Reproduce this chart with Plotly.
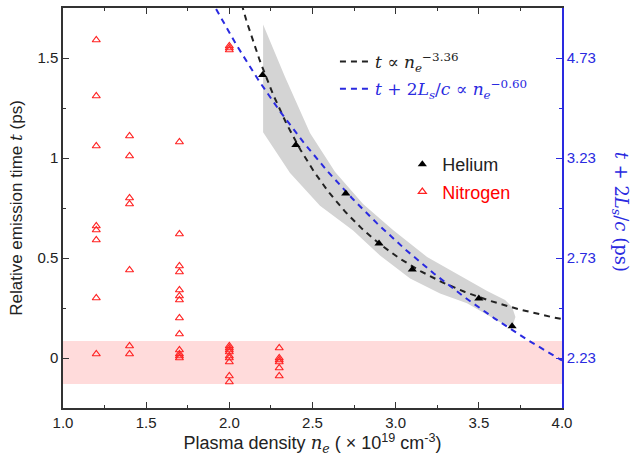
import numpy as np
import plotly.graph_objects as go

# ---------------- data ----------------
helium_n = [2.2, 2.4, 2.7, 2.9, 3.1, 3.5, 3.7]
helium_t = [1.415, 1.065, 0.822, 0.572, 0.442, 0.297, 0.159]

nitrogen_n = ([1.2] * 8 + [1.4] * 7 + [1.7] * 13 + [2.0] * 12 + [2.3] * 6)
nitrogen_t = ([1.59, 1.31, 1.06, 0.66, 0.64, 0.59, 0.30, 0.02] +
              [1.11, 1.01, 0.80, 0.77, 0.44, 0.06, 0.02] +
              [1.08, 0.62, 0.46, 0.43, 0.34, 0.31, 0.29, 0.20, 0.12, 0.04, 0.02, 0.01, 0.0] +
              [1.56, 1.55, 1.54, 0.06, 0.05, 0.04, 0.03, 0.01, 0.0, -0.02, -0.09, -0.12] +
              [0.05, 0.0, -0.01, -0.02, -0.05, -0.09])

# uncertainty band around helium data
band_upper_n = [2.203, 2.335, 2.485, 2.636, 2.804, 2.984, 3.189, 3.387, 3.550, 3.658, 3.700, 3.720]
band_upper_t = [1.667, 1.405, 1.125, 0.930, 0.770, 0.640, 0.505, 0.410, 0.335, 0.290, 0.255, 0.205]
band_lower_n = [2.203, 2.365, 2.545, 2.744, 2.906, 3.087, 3.267, 3.429, 3.628, 3.700]
band_lower_t = [1.129, 0.925, 0.761, 0.637, 0.512, 0.398, 0.323, 0.274, 0.179, 0.154]

# nitrogen "zero" band
nitrogen_band = (-0.13, 0.085)

# power-law fits
black_exp, black_amp = -3.36, 20.5
blue_exp, blue_amp, blue_offset = -0.60, 7.3, 3.19

x_ticks = [1.0, 1.5, 2.0, 2.5, 3.0, 3.5, 4.0]
x_ticklabels = ["1.0", "1.5", "2.0", "2.5", "3.0", "3.5", "4.0"]
y_ticks = [0, 0.5, 1, 1.5]
y_ticklabels = ["0", "0.5", "1", "1.5"]
y2_ticklabels = ["2.23", "2.73", "3.23", "4.73"]

BLUE = "#2a2ae0"
RED = "#ff2222"
SERIF = "DejaVu Serif, serif"

fig = go.Figure()

# gray band
fig.add_trace(go.Scatter(
    x=band_upper_n + band_lower_n[::-1], y=band_upper_t + band_lower_t[::-1],
    fill="toself", fillcolor="#d4d4d4", line=dict(width=0, color="#d4d4d4"),
    mode="lines", showlegend=False, hoverinfo="skip"))

n_fit = np.linspace(1.8, 4.0, 250)
fig.add_trace(go.Scatter(
    x=n_fit, y=black_amp * n_fit ** black_exp, mode="lines",
    line=dict(color="#222222", width=2, dash="6px,5px"),
    name="<i>t</i> ∝ <i>n<sub>e</sub></i><sup>−3.36</sup>",
    legend="legend", legendgroup="a"))
fig.add_trace(go.Scatter(
    x=n_fit, y=blue_amp * n_fit ** blue_exp - blue_offset, mode="lines",
    line=dict(color=BLUE, width=2, dash="6px,5px"),
    name="<span style='color:%s'><i>t</i> + 2<i>L<sub>s</sub></i>/<i>c</i> ∝ <i>n<sub>e</sub></i><sup>−0.60</sup></span>" % BLUE,
    legend="legend", legendgroup="b"))

fig.add_trace(go.Scatter(
    x=nitrogen_n, y=nitrogen_t, mode="markers",
    marker=dict(symbol="triangle-up-open", size=7, color=RED, line=dict(width=1.2, color=RED)),
    name="<span style='color:red'>Nitrogen</span>", legend="legend2", legendgroup="d", legendrank=2))
fig.add_trace(go.Scatter(
    x=helium_n, y=helium_t, mode="markers",
    marker=dict(symbol="triangle-up", size=8, color="black"),
    name="Helium", legend="legend2", legendgroup="c", legendrank=1))

fig.add_shape(type="rect", xref="paper", x0=0, x1=1, yref="y",
              y0=nitrogen_band[0], y1=nitrogen_band[1],
              fillcolor="rgba(255,40,40,0.17)", line=dict(width=0), layer="below")

axis_font = dict(family="Liberation Sans, Arial", size=15, color="#222")

fig.update_layout(
    width=635, height=459,
    margin=dict(l=63, r=73, t=6, b=51),
    paper_bgcolor="white", plot_bgcolor="white",
    font=dict(family="Liberation Sans, Arial", size=15, color="#222"),
    xaxis=dict(range=[1.0, 4.0], tickvals=x_ticks, ticktext=x_ticklabels,
               ticks="inside", ticklen=6, tickcolor="#333", showline=True,
               linecolor="#333", linewidth=1.5, mirror="ticks", showgrid=False,
               zeroline=False, tickfont=axis_font,
               minor=dict(dtick=0.25, ticks="inside", ticklen=3, tickcolor="#333"),
               title=dict(text="Plasma density <span style='font-family:DejaVu Serif'><i>n<sub>e</sub></i></span> ( × 10<sup>19</sup> cm<sup>-3</sup>)",
                          font=dict(size=18), standoff=6)),
    yaxis=dict(range=[-0.25, 1.75], tickvals=y_ticks, ticktext=y_ticklabels,
               ticks="inside", ticklen=6, tickcolor="#333", showline=True,
               linecolor="#333", linewidth=1.5, showgrid=False, zeroline=False,
               tickfont=axis_font,
               minor=dict(dtick=0.25, ticks="inside", ticklen=3, tickcolor="#333"),
               title=dict(text="Relative emission time <span style='font-family:DejaVu Serif'><i>t</i></span> (ps)",
                          font=dict(size=17), standoff=10)),
    yaxis2=dict(range=[-0.25, 1.75], overlaying="y", side="right",
                tickvals=y_ticks, ticktext=y2_ticklabels, ticks="inside", ticklen=6,
                tickcolor=BLUE, showline=True, linecolor=BLUE, linewidth=1.5,
                showgrid=False, zeroline=False, tickfont=dict(family="Liberation Sans, Arial", size=15, color=BLUE),
                minor=dict(dtick=0.25, ticks="inside", ticklen=3, tickcolor=BLUE)),
    legend=dict(x=0.545, y=0.91, xanchor="left", yanchor="top", bgcolor="rgba(0,0,0,0)",
                font=dict(family=SERIF, size=17, color="#222"),
                itemwidth=30, tracegroupgap=2, traceorder="grouped"),
    legend2=dict(x=0.68, y=0.655, xanchor="left", yanchor="top", bgcolor="rgba(0,0,0,0)",
                 font=dict(family="Liberation Sans, Arial", size=18, color="#222"),
                 itemwidth=30, tracegroupgap=1, traceorder="grouped"),
)

# invisible trace to attach the right axis
fig.add_trace(go.Scatter(x=[1.0], y=[0], yaxis="y2", mode="markers",
                         marker=dict(opacity=0), showlegend=False, hoverinfo="skip"))

fig.add_annotation(text="<i>t</i> + 2<i>L<sub>s</sub></i>/<i>c</i> (ps)", textangle=90,
                   xref="paper", yref="paper", x=1.145, y=0.49, showarrow=False,
                   font=dict(family=SERIF, size=18, color=BLUE))

fig.write_html("out.html")
